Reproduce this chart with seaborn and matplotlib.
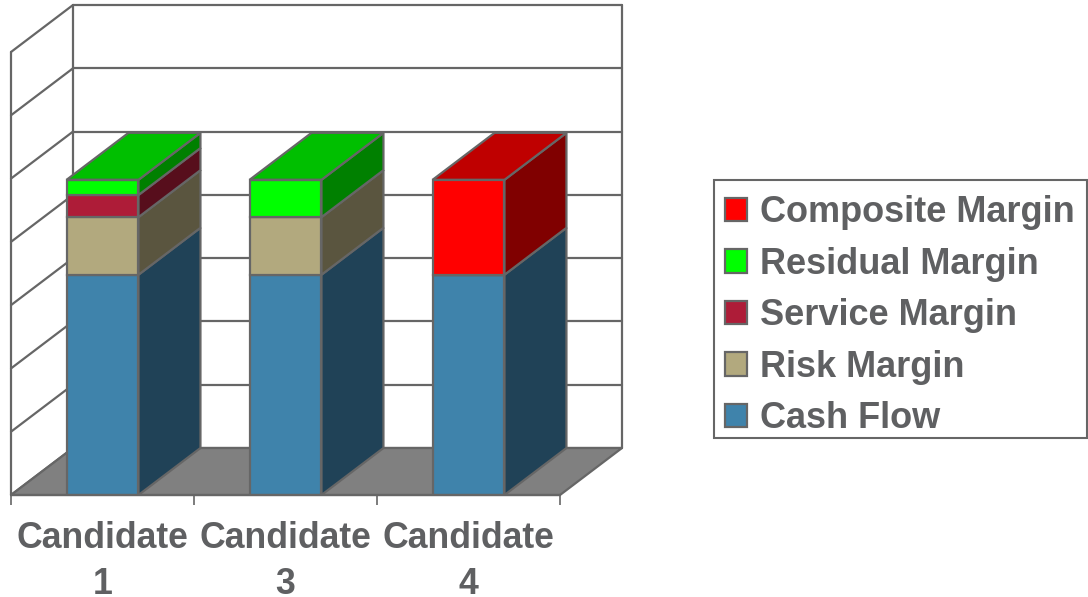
import matplotlib
matplotlib.use('Agg')
import matplotlib.pyplot as plt
import seaborn as sns
from matplotlib.patches import Polygon, Patch, Rectangle

sns.set_theme(style='white')
plt.rcParams['font.family'] = ['Liberation Sans', 'DejaVu Sans']

candidates = ['Candidate\n1', 'Candidate\n3', 'Candidate\n4']
series_names = ['Cash Flow', 'Risk Margin', 'Service Margin', 'Residual Margin', 'Composite Margin']
cash_flow = [3.48, 3.48, 3.48]
risk_margin = [0.91, 0.91, 0]
service_margin = [0.35, 0, 0]
residual_margin = [0.24, 0.59, 0]
composite_margin = [0, 0, 1.50]
series_values = [cash_flow, risk_margin, service_margin, residual_margin, composite_margin]
front_colors = ['#3F83AB', '#B2A97E', '#AE1C38', '#00FF00', '#FF0000']
side_colors = ['#204257', '#5A553F', '#570E1C', '#008000', '#800000']
top_colors = ['#204F6B', '#8A8360', '#82152A', '#00BF00', '#BF0000']

line_col = '#666666'
text_col = '#5F6062'
n_grid = 7
bar_w = 0.393
dx = 62 / 183   # depth in x units
dy = 47 / 63.3  # depth in y units
lw = 1.6

fig = plt.figure(figsize=(10.88, 5.97), dpi=100)
ax = fig.add_axes([11 / 1088, 102 / 597, 549 / 1088, 443 / 597])

# stacked front faces
bottoms = [0, 0, 0]
for vals, col in zip(series_values, front_colors):
    sns.barplot(x=candidates, y=vals, bottom=bottoms, color=col, saturation=1, width=bar_w,
                edgecolor=line_col, linewidth=lw, zorder=5, ax=ax)
    bottoms = [b + v for b, v in zip(bottoms, vals)]

ax.set_xlim(-0.5, 2.5)
ax.set_ylim(0, n_grid)

def poly(pts, fc, z=4):
    ax.add_patch(Polygon(pts, closed=True, facecolor=fc, edgecolor=line_col, linewidth=lw,
                         zorder=z, clip_on=False))

# walls and floor
x0, x1 = -0.5, 2.5
poly([(x0, 0), (x1, 0), (x1 + dx, dy), (x0 + dx, dy)], '#808080', z=2)
for k in range(n_grid + 1):
    ax.plot([x0 + dx, x1 + dx], [dy + k, dy + k], color=line_col, lw=lw, zorder=1, clip_on=False)
    ax.plot([x0, x0 + dx], [k, k + dy], color=line_col, lw=lw, zorder=1, clip_on=False)
ax.plot([x0, x0], [0, n_grid], color=line_col, lw=lw, zorder=1, clip_on=False)
ax.plot([x0 + dx, x0 + dx], [dy, n_grid + dy], color=line_col, lw=lw, zorder=1, clip_on=False)
ax.plot([x1 + dx, x1 + dx], [dy, n_grid + dy], color=line_col, lw=lw, zorder=1, clip_on=False)

# side and top faces of the bars
for i in range(len(candidates)):
    left = i - bar_w / 2
    right = i + bar_w / 2
    base = 0
    top_col = None
    for vals, s_col, t_col in zip(series_values, side_colors, top_colors):
        v = vals[i]
        if v > 0:
            poly([(right, base), (right + dx, base + dy), (right + dx, base + v + dy), (right, base + v)], s_col)
            base += v
            top_col = t_col
    poly([(left, base), (right, base), (right + dx, base + dy), (left + dx, base + dy)], top_col)

# axis: ticks between categories, labels under the bars
ax.set_xticks(range(len(candidates)))
ax.set_xticklabels(candidates, fontsize=25.7, fontweight='bold', color=text_col, linespacing=1.38)
ax.set_xticks([-0.5, 0.5, 1.5, 2.5], minor=True)
ax.tick_params(axis='x', which='major', length=0, pad=19)
ax.tick_params(axis='x', which='minor', length=7, width=1.2, color=line_col, bottom=True)
ax.set_yticks([])
ax.set_ylabel('')
ax.plot([x0, x1], [0, 0], color=line_col, lw=lw, zorder=6, clip_on=False)
sns.despine(ax=ax, left=True, bottom=True)
ax.patch.set_alpha(0)

# legend box drawn apart so the rows can sit where they do in the chart
fig.add_artist(Rectangle((714 / 1088, 1 - 438 / 597), 373 / 1088, 258 / 597, transform=fig.transFigure,
                         facecolor='white', edgecolor=line_col, linewidth=1.5))
handles = [Patch(facecolor=c, edgecolor=line_col, linewidth=lw, label=n)
           for c, n in zip(front_colors[::-1], series_names[::-1])]
leg = fig.legend(handles=handles, loc='upper left', bbox_to_anchor=(725 / 1088, 1 - 195 / 597),
                 fontsize=26, frameon=False,
                 handlelength=0.62, handleheight=0.62, handletextpad=0.36, labelspacing=0.46,
                 borderpad=0, borderaxespad=0)
for t in leg.get_texts():
    t.set_color(text_col)
    t.set_fontweight('bold')

fig.savefig('out.png', dpi=100)
